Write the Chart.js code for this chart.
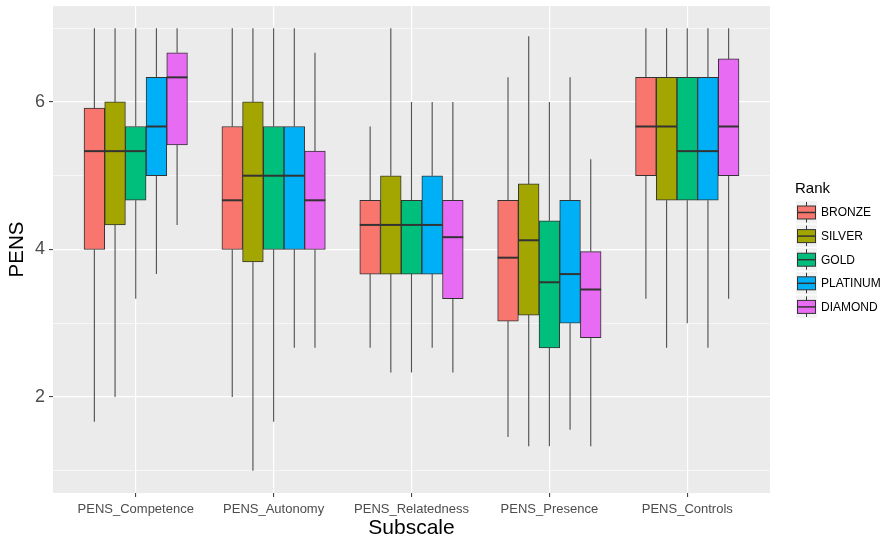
<!DOCTYPE html>
<html>
<head>
<meta charset="utf-8">
<script src="https://cdn.jsdelivr.net/npm/chart.js@4"></script>
<style>
  html, body { margin: 0; padding: 0; background: #ffffff; }
  canvas { display: block; }
</style>
</head>
<body>
<canvas id="chart" width="881" height="540"></canvas>
<script>
// Subscales on the x axis and player ranks used for grouping
const subscales = ['PENS_Competence', 'PENS_Autonomy', 'PENS_Relatedness', 'PENS_Presence', 'PENS_Controls'];
const ranks = ['BRONZE', 'SILVER', 'GOLD', 'PLATINUM', 'DIAMOND'];
const rankColors = ['#F8766D', '#A3A500', '#00BF7D', '#00B0F6', '#E76BF3'];

// Box summaries per subscale: [lower whisker, Q1, median, Q3, upper whisker]
const BRONZE = [
  [1.667, 4.000, 5.333, 5.917, 7.000],
  [2.000, 4.000, 4.667, 5.667, 7.000],
  [2.667, 3.667, 4.333, 4.667, 5.667],
  [1.460, 3.030, 3.889, 4.667, 6.333],
  [3.333, 5.000, 5.667, 6.333, 7.000]
];
const SILVER = [
  [2.000, 4.333, 5.333, 6.000, 7.000],
  [1.000, 3.833, 5.000, 6.000, 7.000],
  [2.333, 3.667, 4.333, 5.000, 7.000],
  [1.333, 3.111, 4.125, 4.889, 6.889],
  [2.667, 4.667, 5.667, 6.333, 7.000]
];
const GOLD = [
  [3.333, 4.667, 5.333, 5.667, 7.000],
  [1.667, 4.000, 5.000, 5.667, 7.000],
  [2.333, 3.667, 4.333, 4.667, 6.000],
  [1.333, 2.667, 3.556, 4.389, 6.000],
  [3.000, 4.667, 5.333, 6.333, 7.000]
];
const PLATINUM = [
  [3.667, 5.000, 5.667, 6.333, 7.000],
  [2.667, 4.000, 5.000, 5.667, 7.000],
  [2.667, 3.667, 4.333, 5.000, 6.000],
  [1.556, 3.000, 3.667, 4.667, 6.333],
  [2.667, 4.667, 5.333, 6.333, 7.000]
];
const DIAMOND = [
  [4.333, 5.417, 6.333, 6.667, 7.000],
  [2.667, 4.000, 4.667, 5.333, 6.667],
  [2.333, 3.333, 4.167, 4.667, 6.000],
  [1.333, 2.806, 3.458, 3.972, 5.222],
  [3.333, 5.000, 5.667, 6.583, 7.000]
];

const yTicks = [1, 2, 3, 4, 5, 6, 7];
const yLabelled = [2, 4, 6];

const summaries = [BRONZE, SILVER, GOLD, PLATINUM, DIAMOND];

// Dodged placement: five boxes share 0.75 of each category slot
const dodgeWidth = 0.75;
const boxWidth = dodgeWidth / ranks.length;
function boxCenter(i, j) {
  return i + (j - (ranks.length - 1) / 2) * boxWidth;
}

const FONT = '"Liberation Sans", Arial, Helvetica, sans-serif';

const datasets = ranks.map((rank, j) => ({
  label: rank,
  data: summaries[j].map((s, i) => ({ x: boxCenter(i, j), y: [s[1], s[3]] })),
  backgroundColor: rankColors[j],
  borderColor: '#333333',
  borderWidth: 1,
  borderSkipped: false,
  grouped: false,
  barPercentage: 1,
  categoryPercentage: 1
}));

// Grey panel behind the grid
const panelBackground = {
  id: 'panelBackground',
  beforeDraw(chart) {
    const { ctx, chartArea: a } = chart;
    ctx.save();
    ctx.fillStyle = '#EBEBEB';
    ctx.fillRect(a.left, a.top, a.right - a.left, a.bottom - a.top);
    ctx.restore();
  }
};

// Whiskers behind the boxes, medians on top
const boxParts = {
  id: 'boxParts',
  beforeDatasetsDraw(chart) {
    const { ctx, scales: { x, y } } = chart;
    ctx.save();
    ctx.strokeStyle = 'rgba(51,51,51,0.85)';
    ctx.lineWidth = 1.1;
    summaries.forEach((rows, j) => {
      rows.forEach((s, i) => {
        const px = x.getPixelForValue(boxCenter(i, j));
        ctx.beginPath();
        ctx.moveTo(px, y.getPixelForValue(s[0]));
        ctx.lineTo(px, y.getPixelForValue(s[1]));
        ctx.moveTo(px, y.getPixelForValue(s[3]));
        ctx.lineTo(px, y.getPixelForValue(s[4]));
        ctx.stroke();
      });
    });
    ctx.restore();
  },
  afterDatasetsDraw(chart) {
    const { ctx, scales: { y } } = chart;
    ctx.save();
    ctx.strokeStyle = '#333333';
    ctx.lineWidth = 2;
    summaries.forEach((rows, j) => {
      const meta = chart.getDatasetMeta(j);
      rows.forEach((s, i) => {
        const bar = meta.data[i];
        const half = bar.width / 2;
        const py = y.getPixelForValue(s[2]);
        ctx.beginPath();
        ctx.moveTo(bar.x - half, py);
        ctx.lineTo(bar.x + half, py);
        ctx.stroke();
      });
    });
    ctx.restore();
  }
};

// Legend with box glyph keys on the right
const rankLegend = {
  id: 'rankLegend',
  afterDraw(chart) {
    const { ctx } = chart;
    const keyLeft = 796, keyW = 21, keyH = 23, step = 23.6, firstTop = 201;
    ctx.save();
    ctx.textBaseline = 'middle';
    ctx.textAlign = 'left';
    ctx.fillStyle = '#000000';
    ctx.font = '15px ' + FONT;
    ctx.fillText('Rank', 795, 189);
    ranks.forEach((rank, j) => {
      const top = firstTop + j * step;
      const cx = keyLeft + keyW / 2;
      const cy = top + keyH / 2;
      ctx.fillStyle = '#F2F2F2';
      ctx.fillRect(keyLeft, top, keyW, keyH - 0.6);
      ctx.strokeStyle = '#333333';
      ctx.lineWidth = 1;
      ctx.beginPath();
      ctx.moveTo(cx, top + 1);
      ctx.lineTo(cx, top + keyH - 1.5);
      ctx.stroke();
      ctx.fillStyle = rankColors[j];
      ctx.fillRect(keyLeft + 1.5, cy - 6.5, keyW - 3, 13);
      ctx.strokeRect(keyLeft + 1.5, cy - 6.5, keyW - 3, 13);
      ctx.lineWidth = 1.5;
      ctx.beginPath();
      ctx.moveTo(keyLeft + 1.5, cy);
      ctx.lineTo(keyLeft + keyW - 1.5, cy);
      ctx.stroke();
      ctx.fillStyle = '#000000';
      ctx.font = '12px ' + FONT;
      ctx.fillText(rank, 821, cy + 0.5);
    });
    ctx.restore();
  }
};

new Chart(document.getElementById('chart'), {
  type: 'bar',
  data: { datasets },
  plugins: [panelBackground, boxParts, rankLegend],
  options: {
    responsive: false,
    animation: false,
    events: [],
    layout: { padding: { top: 6, right: 111, bottom: 0, left: 0 } },
    plugins: {
      legend: { display: false },
      tooltip: { enabled: false }
    },
    scales: {
      x: {
        type: 'linear',
        min: -0.6,
        max: subscales.length - 1 + 0.6,
        offset: false,
        afterBuildTicks(axis) {
          axis.ticks = subscales.map((_, i) => ({ value: i }));
        },
        afterFit(axis) {
          axis.height = 47;
          axis.paddingLeft = 0;
          axis.paddingRight = 0;
        },
        border: { display: false },
        grid: {
          offset: false,
          color: '#FFFFFF',
          lineWidth: 1.2,
          drawTicks: true,
          tickLength: 4,
          tickColor: '#333333',
          tickWidth: 1
        },
        ticks: {
          autoSkip: false,
          maxRotation: 0,
          padding: 5,
          color: '#4D4D4D',
          font: { family: FONT, size: 13 },
          callback: (v) => subscales[v] ?? ''
        },
        title: {
          display: true,
          text: 'Subscale',
          color: '#000000',
          font: { family: FONT, size: 21, lineHeight: 1 },
          padding: { top: 0, bottom: 1 }
        }
      },
      y: {
        type: 'linear',
        min: 0.7,
        max: 7.3,
        beginAtZero: false,
        afterBuildTicks(axis) {
          axis.ticks = yTicks.map(v => ({ value: v }));
        },
        afterFit(axis) {
          axis.width = 53;
          axis.paddingTop = 0;
          axis.paddingBottom = 0;
        },
        border: { display: false },
        grid: {
          color: '#FFFFFF',
          lineWidth: (c) => (c.tick && yLabelled.includes(c.tick.value)) ? 1.2 : 0.6,
          drawTicks: true,
          tickLength: 4,
          tickWidth: 1,
          tickColor: (c) => (c.tick && yLabelled.includes(c.tick.value)) ? '#333333' : 'rgba(0,0,0,0)'
        },
        ticks: {
          autoSkip: false,
          padding: 4,
          color: '#4D4D4D',
          font: { family: FONT, size: 18 },
          callback: (v) => yLabelled.includes(v) ? String(v) : ''
        },
        title: {
          display: true,
          text: 'PENS',
          color: '#000000',
          font: { family: FONT, size: 20.5, lineHeight: 1 },
          padding: { top: 7, bottom: 0 }
        }
      }
    }
  }
});
</script>
</body>
</html>
